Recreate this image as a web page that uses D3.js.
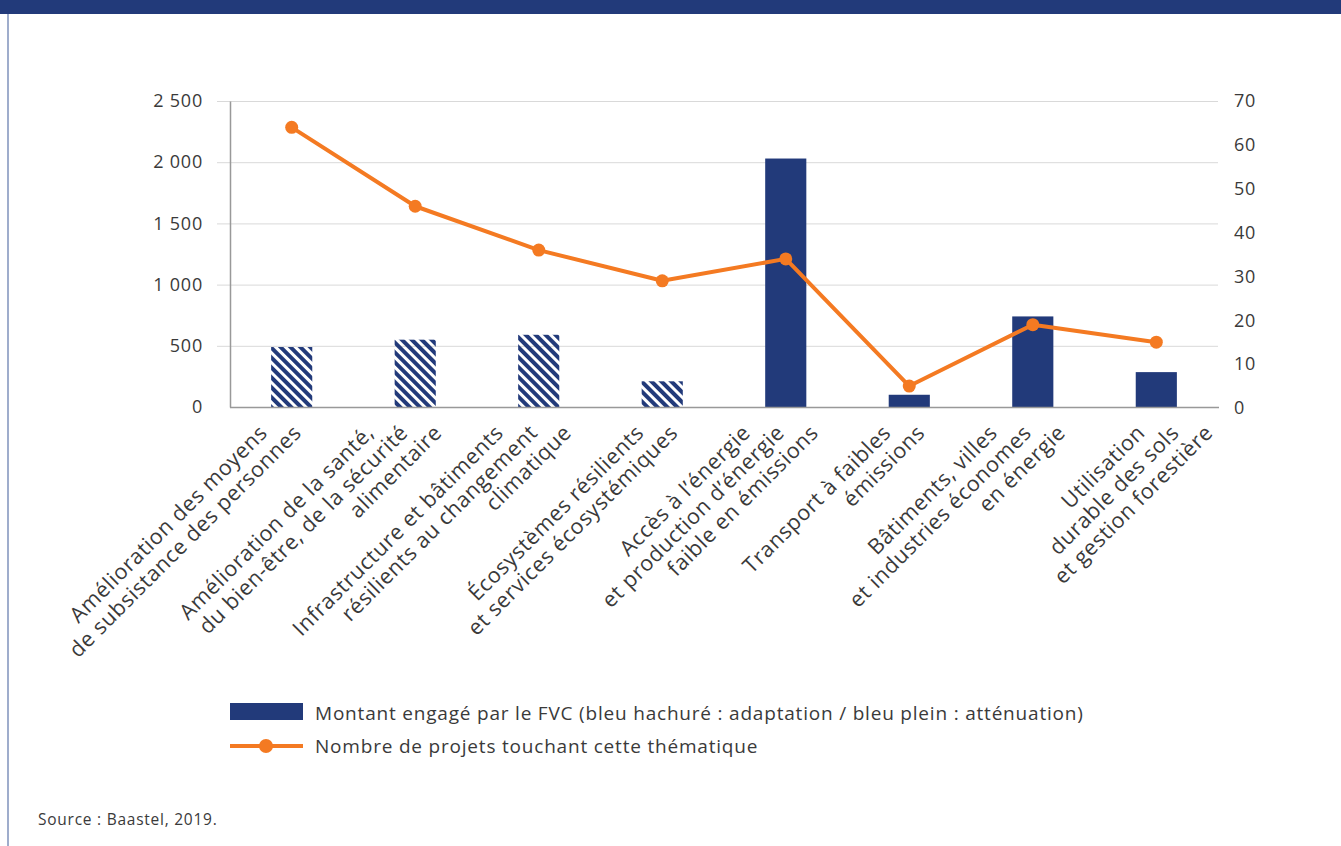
<!DOCTYPE html>
<html>
<head>
<meta charset="utf-8">
<script src="https://cdn.jsdelivr.net/npm/d3@7"></script>
<style>
  body { margin: 0; background: #fff; }
  svg text { font-family: "Open Sans", sans-serif; fill: #3a3a3a; }
</style>
</head>
<body>
<div id="chart"></div>
<script>
// categories, split in lines as in the figure
var categories = [
  ["Amélioration des moyens", "de subsistance des personnes"],
  ["Amélioration de la santé,", "du bien-être, de la sécurité", "alimentaire"],
  ["Infrastructure et bâtiments", "résilients au changement", "climatique"],
  ["Écosystèmes résilients", "et services écosystémiques"],
  ["Accès à l’énergie", "et production d’énergie", "faible en émissions"],
  ["Transport à faibles", "émissions"],
  ["Bâtiments, villes", "et industries économes", "en énergie"],
  ["Utilisation", "durable des sols", "et gestion forestière"]
];
// montant engagé (M USD), hatched = adaptation
var amounts = [490, 550, 590, 210, 2030, 100, 740, 285];
var adaptation = [true, true, true, true, false, false, false, false];
// nombre de projets
var projects = [64, 46, 36, 29, 34, 5, 19, 15];
var leftTicks = [0, 500, 1000, 1500, 2000, 2500];
var rightTicks = [0, 10, 20, 30, 40, 50, 60, 70];

var W = 1341, H = 846;
var blue = "#223a7a", orange = "#f47a22";
var margin = {left: 230, right: 1218, top: 101, bottom: 407};

var svg = d3.select("#chart").append("svg")
  .attr("width", W).attr("height", H);

// hatch pattern
var defs = svg.append("defs");
defs.append("pattern")
  .attr("id", "hatch")
  .attr("patternUnits", "userSpaceOnUse")
  .attr("width", 7).attr("height", 7)
  .attr("patternTransform", "rotate(-45)")
  .append("rect")
    .attr("width", 4).attr("height", 7)
    .attr("fill", blue);

// frame : top bar + left border
svg.append("rect").attr("x", 0).attr("y", 0).attr("width", W).attr("height", 14).attr("fill", blue);
svg.append("line").attr("x1", 8).attr("x2", 8).attr("y1", 14).attr("y2", H)
  .attr("stroke", "#9fadcc").attr("stroke-width", 2);

var keys = categories.map(function(d, i) { return "c" + i; });

var x = d3.scaleBand()
  .domain(keys)
  .range([margin.left, margin.right])
  .paddingInner(0.667)
  .paddingOuter(0.333);

var y = d3.scaleLinear().domain([0, 2500]).range([margin.bottom, margin.top]);
var y2 = d3.scaleLinear().domain([0, 70]).range([margin.bottom + 1, margin.top]);

// gridlines
svg.append("g")
  .selectAll("line")
  .data(leftTicks.filter(function(d) { return d > 0; }))
  .enter().append("line")
    .attr("x1", margin.left - 13).attr("x2", margin.right)
    .attr("y1", function(d) { return y(d) + 0.5; })
    .attr("y2", function(d) { return y(d) + 0.5; })
    .attr("stroke", "#d9d9d9").attr("stroke-width", 1);

// left axis
var yAxis = svg.append("g")
  .attr("transform", "translate(" + margin.left + ",0)")
  .call(d3.axisLeft(y).tickValues(leftTicks).tickSize(0).tickPadding(27)
    .tickFormat(function(d) { return d3.format(",")(d).replace(",", " "); }));
yAxis.select(".domain").attr("stroke", "#999").attr("stroke-width", 1.5);
yAxis.selectAll("text").style("font-size", "18px").style("letter-spacing", "0.8px")
  .style("font-family", "Open Sans").attr("fill", "#3a3a3a");

// right axis
var y2Axis = svg.append("g")
  .attr("transform", "translate(" + margin.right + ",0)")
  .call(d3.axisRight(y2).tickValues(rightTicks).tickSize(0).tickPadding(16));
y2Axis.select(".domain").remove();
y2Axis.selectAll("text").style("font-size", "18px").style("letter-spacing", "0.8px")
  .style("font-family", "Open Sans").attr("fill", "#3a3a3a");

// bars
svg.append("g")
  .selectAll("rect")
  .data(amounts)
  .enter().append("rect")
    .attr("x", function(d, i) { return x(keys[i]); })
    .attr("y", function(d) { return y(d); })
    .attr("width", x.bandwidth())
    .attr("height", function(d) { return y(0) - y(d); })
    .attr("fill", function(d, i) { return adaptation[i] ? "url(#hatch)" : blue; });

// bottom axis line
svg.append("line")
  .attr("x1", margin.left).attr("x2", margin.right + 1)
  .attr("y1", margin.bottom + 0.5).attr("y2", margin.bottom + 0.5)
  .attr("stroke", "#999").attr("stroke-width", 1.5);

// category labels, rotated -45 : every line ends on the same row under the axis,
// successive lines stepping to the right (last label sits a bit further right)
var fs = 21.5, step = 34;
categories.forEach(function(lines, i) {
  var cx = x(keys[i]) + x.bandwidth() / 2;
  if (i === categories.length - 1) cx += 24;
  if (i < 2) cx -= 6;
  var n = lines.length;
  lines.forEach(function(t, k) {
    var ex = cx + (k - (n - 1) / 2) * step;
    svg.append("text").text(t)
      .style("font-size", fs + "px").style("letter-spacing", "0.6px")
      .attr("text-anchor", "end")
      .attr("transform", "translate(" + ex + "," + (margin.bottom + 27) + ") rotate(-45)");
  });
});

// line + markers
var cxs = keys.map(function(k) { return x(k) + x.bandwidth() / 2; });
var line = d3.line()
  .x(function(d, i) { return cxs[i]; })
  .y(function(d) { return y2(d); });
svg.append("path")
  .datum(projects)
  .attr("d", line)
  .attr("fill", "none").attr("stroke", orange).attr("stroke-width", 4)
  .attr("stroke-linejoin", "round");
svg.append("g").selectAll("circle")
  .data(projects)
  .enter().append("circle")
    .attr("cx", function(d, i) { return cxs[i]; })
    .attr("cy", function(d) { return y2(d); })
    .attr("r", 6.5)
    .attr("fill", orange);

// legend
var leg = svg.append("g");
leg.append("rect").attr("x", 230).attr("y", 703).attr("width", 73).attr("height", 17).attr("fill", blue);
leg.append("text").attr("x", 315).attr("y", 713).attr("dominant-baseline", "central")
  .style("font-size", "19px").style("letter-spacing", "0.8px")
  .text("Montant engagé par le FVC (bleu hachuré : adaptation / bleu plein : atténuation)");
leg.append("line").attr("x1", 230).attr("x2", 303).attr("y1", 746).attr("y2", 746)
  .attr("stroke", orange).attr("stroke-width", 4);
leg.append("circle").attr("cx", 266).attr("cy", 746).attr("r", 7).attr("fill", orange);
leg.append("text").attr("x", 315).attr("y", 746).attr("dominant-baseline", "central")
  .style("font-size", "19px").style("letter-spacing", "0.8px")
  .text("Nombre de projets touchant cette thématique");

// source
svg.append("text").attr("x", 38).attr("y", 825)
  .style("font-size", "15.5px").style("letter-spacing", "0.75px").attr("fill", "#444")
  .text("Source : Baastel, 2019.");
</script>
</body>
</html>
